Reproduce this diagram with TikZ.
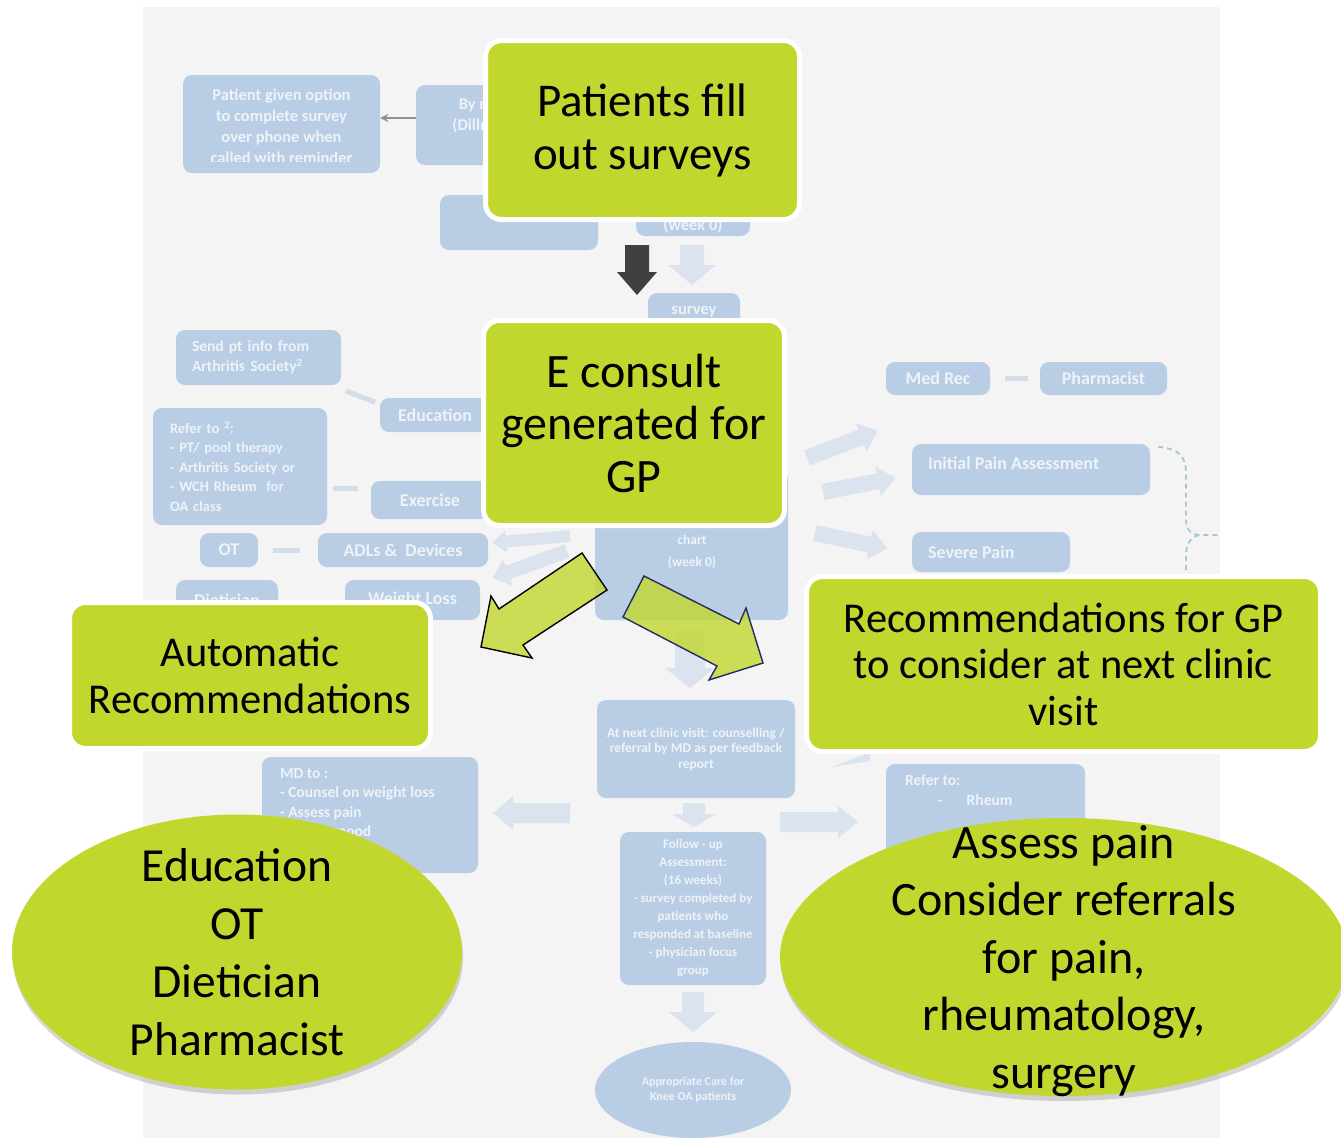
\documentclass[tikz,border=0pt]{standalone}
\usepackage{fontspec}
\setmainfont{Carlito}
\usetikzlibrary{shapes.geometric,shadows,arrows.meta}

\definecolor{gLime}{RGB}{194,215,46}
\definecolor{fblue}{RGB}{185,205,228}
\definecolor{ftext}{RGB}{238,243,250}
\definecolor{farrow}{RGB}{218,227,238}
\definecolor{bgray}{RGB}{244,244,244}
\definecolor{darr}{RGB}{64,64,64}
\definecolor{navyline}{RGB}{31,45,100}
\definecolor{dashc}{RGB}{170,198,208}
\definecolor{linkc}{RGB}{212,222,234}

% font sizes
\newcommand\fsA{\fontsize{16.5}{21}\bfseries\selectfont}
\newcommand\fsB{\fontsize{15.5}{19.5}\bfseries\selectfont}
\newcommand\fsC{\fontsize{18}{22}\bfseries\selectfont}
\newcommand\fsD{\fontsize{14.5}{19.5}\bfseries\selectfont}
\newcommand\fsE{\fontsize{13.5}{22}\bfseries\selectfont}
\newcommand\fsF{\fontsize{13.5}{15.5}\bfseries\selectfont}
\newcommand\fsFu{\fontsize{13}{18}\bfseries\selectfont}
\newcommand\fsG{\fontsize{12}{15}\bfseries\selectfont}
\newcommand\fsH{\fontsize{47}{53}\selectfont}
\newcommand\fsHb{\fontsize{48}{52.5}\selectfont}
\newcommand\fsI{\fontsize{42.5}{46.5}\selectfont}
\newcommand\fsJ{\fontsize{47.5}{58}\selectfont}
\newcommand\fsK{\fontsize{48}{57.5}\selectfont}

% faded block arrow: [colour]{tail}{angle, clockwise from right}{length}{shaft half width}{head half width}{head length}
\newcommand\blockarr[7][farrow]{%
  \fill[#1, shift={#2}, rotate={-(#3)}]
    (0,-#5) -- ({#4-#7},-#5) -- ({#4-#7},-#6) -- (#4,0) -- ({#4-#7},#6) -- ({#4-#7},#5) -- (0,#5) -- cycle;}

\begin{document}
\begin{tikzpicture}[x=1pt,y=-1pt,
  fbox/.style={fill=fblue, rounded corners=9pt, inner sep=0pt, text=ftext},
  fell/.style={ellipse, fill=fblue, inner sep=0pt, text=ftext},
  ftxt/.style={text=ftext, inner sep=0pt},
  link/.style={draw=linkc, line width=5pt},
  gbox/.style={fill=gLime, draw=white, line width=5pt, rounded corners=16pt, align=center, inner sep=0pt},
  gell/.style={ellipse, fill=gLime, inner sep=0pt,
    drop shadow={shadow xshift=1pt, shadow yshift=-5pt, opacity=0.22, fill=black!70}},
  garrow/.style={fill=gLime, fill opacity=0.8, line width=1.4pt, line join=miter},
  brace/.style={draw=dashc, dashed, dash pattern=on 5pt off 4pt, line width=1.8pt}]

\useasboundingbox (0,0) rectangle (1341,1138);
\fill[white] (0,0) rectangle (1341,1138);
\fill[bgray] (143,7) rectangle (1220,1138);

% ---------- faded flow chart ----------
\node[fbox, minimum width=197pt, minimum height=98pt] (optn) at (281.5,124) {};
\begin{scope}
  \clip (183,75) rectangle (380,161);
  \node[ftxt, font=\fsA, align=center] (optn-t) at (281.5,126)
    {Patient given option\\to complete survey\\over phone when\\called with reminder};
\end{scope}
\node[fbox, minimum width=150pt, minimum height=80pt] (mail) at (491,125) {};
\node[ftxt, font=\fsA, align=center] (mail-t) at (484,115) {By mail\\(Dillman)};
\draw[draw={rgb,255:red,140;green,146;blue,152}, line width=1.5pt, -{Stealth[length=8pt,width=8pt]}]
  ([yshift=7pt]mail.west) -- ([yshift=7pt]mail.west -| optn.east);

\node[fbox, minimum width=158pt, minimum height=55pt] (auto) at (519,222.5) {};
\node[fbox, minimum width=114pt, minimum height=72pt] (wk0) at (693,200) {};
\node[ftxt, font=\fsA] (wk0-t) at (693,226) {(week 0)};
\blockarr{(692,245)}{90}{40}{12}{24}{20}
\blockarr[darr]{(637,245)}{90}{50}{12}{20}{23}
\node[fbox, minimum width=92pt, minimum height=46pt] (surv) at (694,316) {};
\node[ftxt, font=\fsA] (surv-t) at (694,312) {survey};

% left branch
\node[fbox, minimum width=165pt, minimum height=55pt, text width=133pt, align=left, font=\fsB] (send)
  at (258.5,357.5) {Send pt info from\\Arthritis Society\textsuperscript{2}};
\node[fbox, minimum width=110pt, minimum height=34pt, font=\fsC] (edu) at (435,415) {Education};
\draw[link, shorten <=5pt, shorten >=5pt] ([yshift=-4pt]send.south east) -- ([yshift=11pt]edu.west);

\node[fbox, minimum width=174pt, minimum height=117pt, text width=140pt, align=left, font=\fsD] (refr)
  at (240,466.5) {Refer to \textsuperscript{2}:\\- PT/ pool therapy\\- Arthritis Society or\\- WCH Rheum\ \ for\\OA class};
\node[fbox, minimum width=118pt, minimum height=38pt, font=\fsC] (exer) at (430,500) {Exercise};
\draw[link, shorten <=13pt, shorten >=6pt] ([yshift=12pt]exer.west) -- ([yshift=12pt]exer.west -| refr.east);

\node[fbox, minimum width=58pt, minimum height=34pt, font=\fsC] (ot) at (229,550) {OT};
\node[fbox, minimum width=170pt, minimum height=34pt, font=\fsC] (adl) at (403,550) {ADLs \&\ \ Devices};
\draw[link, shorten <=15pt, shorten >=18pt] (ot.east) -- (adl.west);
\node[fbox, minimum width=102pt, minimum height=40pt, font=\fsC] (diet) at (227,600) {Dietician};
\node[fbox, minimum width=135pt, minimum height=40pt, font=\fsC] (wtl) at (412.5,600) {Weight Loss};

% centre column
\node[fbox, minimum width=193pt, minimum height=150pt] (chart) at (691.5,545) {};
\node[ftxt, font=\fsE, align=center] (chart-t) at (692,552) {chart\\(week 0)};
\blockarr{(570,536)}{175}{78}{6}{11}{14}
\blockarr{(567,551)}{160}{79}{7}{14}{16}

% right branch
\blockarr{(807,458)}{-21}{76}{8}{15}{18}
\blockarr{(823,492)}{-11}{74}{8}{15}{18}
\blockarr{(815,533)}{12}{74}{8}{15}{18}
\node[fbox, minimum width=104pt, minimum height=33pt, font=\fsC] (medrec) at (938,378.5) {Med Rec};
\node[fbox, minimum width=127pt, minimum height=33pt, font=\fsC] (pharm) at (1103.5,378.5) {Pharmacist};
\draw[link, shorten <=15pt, shorten >=12pt] (medrec.east) -- (pharm.west);
\node[fbox, minimum width=238pt, minimum height=51pt] (ipa) at (1031,469.5) {};
\node[ftxt, font=\fsC, anchor=west] (ipa-t) at ([xshift=16pt,yshift=6pt]ipa.west) {Initial Pain Assessment};
\node[fbox, minimum width=158pt, minimum height=40pt] (sev) at (991,552) {};
\node[ftxt, font=\fsC, anchor=west] (sev-t) at ([xshift=16pt]sev.west) {Severe Pain};
\coordinate (bj) at (1199,535);
\draw[brace] ([xshift=8pt,yshift=-3pt]ipa.north east) .. controls (1180,449) and (1186,457) .. (1186,474)
  -- (1186,520) .. controls (1186,530) and (1192,535) .. (bj) -- (1220,535);
\draw[brace] (bj) .. controls (1191,537) and (1186,543) .. (1186,556) -- (1186,575);

% lower part
\node[fbox, minimum width=198pt, minimum height=98pt, font=\fsF, align=center] (visit) at (696,749)
  {At next clinic visit: counselling /\\referral by MD as per feedback\\report};
\blockarr{(690,630)}{90}{58}{15}{25}{20}
\blockarr{(694,803)}{90}{24}{11}{22}{13}
\node[fbox, minimum width=146pt, minimum height=153pt, font=\fsFu, align=center] (fup) at (693,908.5)
  {Follow - up\\Assessment:\\(16 weeks)\\- survey completed by\\patients who\\responded at baseline\\- physician focus\\group};
\blockarr{(693,992)}{90}{40}{11}{24}{20}
\node[fell, minimum width=196pt, minimum height=96pt, font=\fsG, align=center] (care) at (693,1090)
  {Appropriate Care for\\Knee OA patients};

\node[fbox, minimum width=216pt, minimum height=116pt] (md) at (370,815) {};
\node[ftxt, font=\fsB, align=left, anchor=north west] (md-t) at ([xshift=18pt,yshift=-11pt]md.north west)
  {MD to :\\- Counsel on weight loss\\- Assess pain\\- Assess mood};
\blockarr{(570,813)}{180}{77}{10}{17}{20}
\blockarr{(780,822)}{0}{78}{10}{16}{20}
\node[fbox, minimum width=199pt, minimum height=110pt] (ref2) at (985.5,819) {};
\node[ftxt, font=\fsB, align=left, anchor=north west] (ref2-t) at ([xshift=19pt,yshift=-11pt]ref2.north west)
  {Refer to:\\\hspace*{33pt}-\hspace*{24pt}Rheum};
\fill[farrow] (832,767) -- (870,752) -- (870,761) -- cycle;

% ---------- overlay ----------
\draw[garrow, draw=black] (582,553) -- (607,590) -- (523,645) -- (532,658) -- (481,647) -- (491,596) -- (499,609) -- cycle;
\draw[garrow, draw=navyline] (644,576) -- (739,624) -- (746,608) -- (763,663) -- (709,680) -- (717,666) -- (623,617) -- cycle;

\node[gbox, minimum width=314pt, minimum height=179pt, font=\fsH] (g1) at (642.5,130) {Patients fill\\out surveys};
\node[gbox, minimum width=301pt, minimum height=205pt, font=\fsHb] (g2) at (634,423) {E consult\\generated for\\GP};
\node[gbox, minimum width=361pt, minimum height=146pt, font=\fsI] (g3) at (250,675.5) {Automatic\\Recommendations};
\node[gbox, minimum width=514pt, minimum height=175pt, font=\fsI] (g4) at (1063.5,664)
  {Recommendations for GP\\to consider at next clinic\\visit};
\node[gell, minimum width=450pt, minimum height=275pt] (g5) at (237,952) {};
\node[font=\fsJ, align=center, inner sep=0pt] (g5-t) at (g5.center) {Education\\OT\\Dietician\\Pharmacist};
\node[gell, minimum width=568pt, minimum height=278pt] (g6) at (1064,957) {};
\node[font=\fsK, align=center, inner sep=0pt] (g6-t) at ([yshift=-4pt]g6.center)
  {Assess pain\\Consider referrals\\for pain,\\rheumatology,\\surgery};
\end{tikzpicture}
\end{document}
